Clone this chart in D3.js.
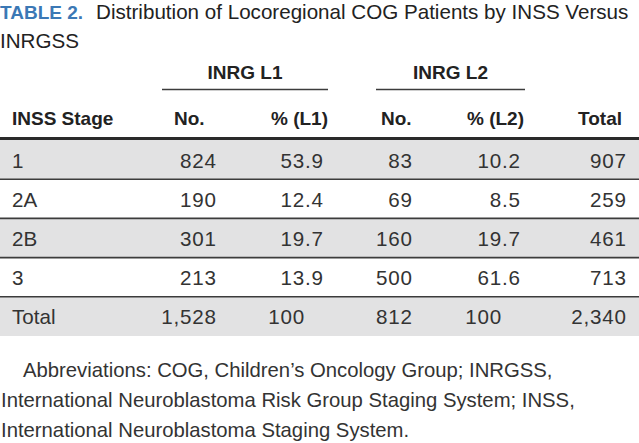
<!DOCTYPE html>
<html>
<head>
<meta charset="utf-8">
<script src="https://cdn.jsdelivr.net/npm/d3@7"></script>
<style>
  html, body { margin: 0; padding: 0; background: #fff; }
  svg { display: block; }
  text { font-family: "Liberation Sans", Arial, sans-serif; }
</style>
</head>
<body>
<div id="chart"></div>
<script>
// ---------- data ----------
const titleLabel = "TABLE 2.";
const titleLine1 = "Distribution of Locoregional COG Patients by INSS Versus";
const titleLine2 = "INRGSS";
const groupLabels = ["INRG L1", "INRG L2"];
const columnLabels = ["INSS Stage", "No.", "% (L1)", "No.", "% (L2)", "Total"];
const stages = ["1", "2A", "2B", "3", "Total"];
const l1No  = ["824", "190", "301", "213", "1,528"];
const l1Pct = ["53.9", "12.4", "19.7", "13.9", "100"];
const l2No  = ["83", "69", "160", "500", "812"];
const l2Pct = ["10.2", "8.5", "19.7", "61.6", "100"];
const totals = ["907", "259", "461", "713", "2,340"];
const footnote = [
  "Abbreviations: COG, Children\u2019s Oncology Group; INRGSS,",
  "International Neuroblastoma Risk Group Staging System; INSS,",
  "International Neuroblastoma Staging System."
];

// ---------- layout ----------
const W = 639, H = 443;
const svg = d3.select("#chart").append("svg").attr("width", W).attr("height", H);

const blue = "#3b78b5", textDark = "#222", textBody = "#333", gray = "#e2e2e3", rule = "#3c3c3c";
const regSize = 20.6;

// title
const t1 = svg.append("text").attr("x", 0).attr("y", 18.5).attr("font-size", regSize);
t1.append("tspan").attr("fill", blue).attr("font-weight", "bold").attr("font-size", 19).text(titleLabel);
t1.append("tspan").attr("fill", textDark).attr("dx", 13).text(titleLine1);
svg.append("text").attr("x", 0).attr("y", 47.5).attr("font-size", regSize).attr("fill", textDark).text(titleLine2);

// rows via band scale
const y = d3.scaleBand().domain(stages).range([140, 336]).paddingInner(0).paddingOuter(0);

// row backgrounds
svg.selectAll("rect.row").data(stages).join("rect")
  .attr("class", "row")
  .attr("x", 0).attr("width", W)
  .attr("y", d => y(d)).attr("height", y.bandwidth())
  .attr("fill", (d, i) => i % 2 === 0 ? gray : "#fff");

// row separators
svg.selectAll("line.sep").data(stages.slice(1)).join("line")
  .attr("class", "sep")
  .attr("x1", 0).attr("x2", W)
  .attr("y1", d => y(d)).attr("y2", d => y(d))
  .attr("stroke", rule).attr("stroke-width", 1.6);

// header thick rule
svg.append("line").attr("x1", 0).attr("x2", W).attr("y1", 138.5).attr("y2", 138.5)
  .attr("stroke", "#2a2a2a").attr("stroke-width", 3);

// group spans
const groups = [
  { label: groupLabels[0], x1: 162, x2: 328 },
  { label: groupLabels[1], x1: 376, x2: 525 }
];
svg.selectAll("line.grp").data(groups).join("line")
  .attr("class", "grp")
  .attr("x1", d => d.x1).attr("x2", d => d.x2)
  .attr("y1", 89.5).attr("y2", 89.5)
  .attr("stroke", rule).attr("stroke-width", 1.4);
svg.selectAll("text.grp").data(groups).join("text")
  .attr("class", "grp")
  .attr("x", d => (d.x1 + d.x2) / 2).attr("y", 79)
  .attr("text-anchor", "middle")
  .attr("font-size", 19).attr("font-weight", "bold").attr("fill", textDark)
  .text(d => d.label);

// column headers
const headerPos = [
  { x: 12, anchor: "start" },
  { x: 174, anchor: "start" },
  { x: 328, anchor: "end" },
  { x: 381, anchor: "start" },
  { x: 524, anchor: "end" },
  { x: 622, anchor: "end" }
];
svg.selectAll("text.colh").data(columnLabels).join("text")
  .attr("class", "colh")
  .attr("x", (d, i) => headerPos[i].x).attr("y", 125)
  .attr("text-anchor", (d, i) => headerPos[i].anchor)
  .attr("font-size", 19).attr("font-weight", "bold").attr("fill", textDark)
  .text(d => d);

// body cells
const numSize = regSize, ls = 0.8;
const baseOff = 27.5;
const g = svg.append("g");
g.selectAll("text.stage").data(stages).join("text")
  .attr("class", "stage")
  .attr("x", 12).attr("y", d => y(d) + baseOff)
  .attr("font-size", regSize).attr("fill", textBody)
  .text(d => d);

// measure fractional part width for decimal alignment
const probe = svg.append("text").attr("font-size", numSize).attr("letter-spacing", ls).text(".9");
const fracW = probe.node().getComputedTextLength();
probe.remove();

const numCols = [
  { vals: l1No,  right: 216, decimal: false },
  { vals: l1Pct, right: 323, decimal: true },
  { vals: l2No,  right: 412, decimal: false },
  { vals: l2Pct, right: 520, decimal: true },
  { vals: totals, right: 626, decimal: false }
];
numCols.forEach(col => {
  g.selectAll(null).data(col.vals).join("text")
    .attr("x", d => col.right + ls - (col.decimal && d.indexOf(".") < 0 ? fracW : 0))
    .attr("y", (d, i) => y(stages[i]) + baseOff)
    .attr("text-anchor", "end")
    .attr("font-size", numSize).attr("letter-spacing", ls).attr("fill", textBody)
    .text(d => d);
});

// footnote
svg.selectAll("text.fn").data(footnote).join("text")
  .attr("class", "fn")
  .attr("x", (d, i) => i === 0 ? 23 : 1)
  .attr("y", (d, i) => 377 + i * 30)
  .attr("font-size", 20.3).attr("fill", textBody)
  .text(d => d);
</script>
</body>
</html>
